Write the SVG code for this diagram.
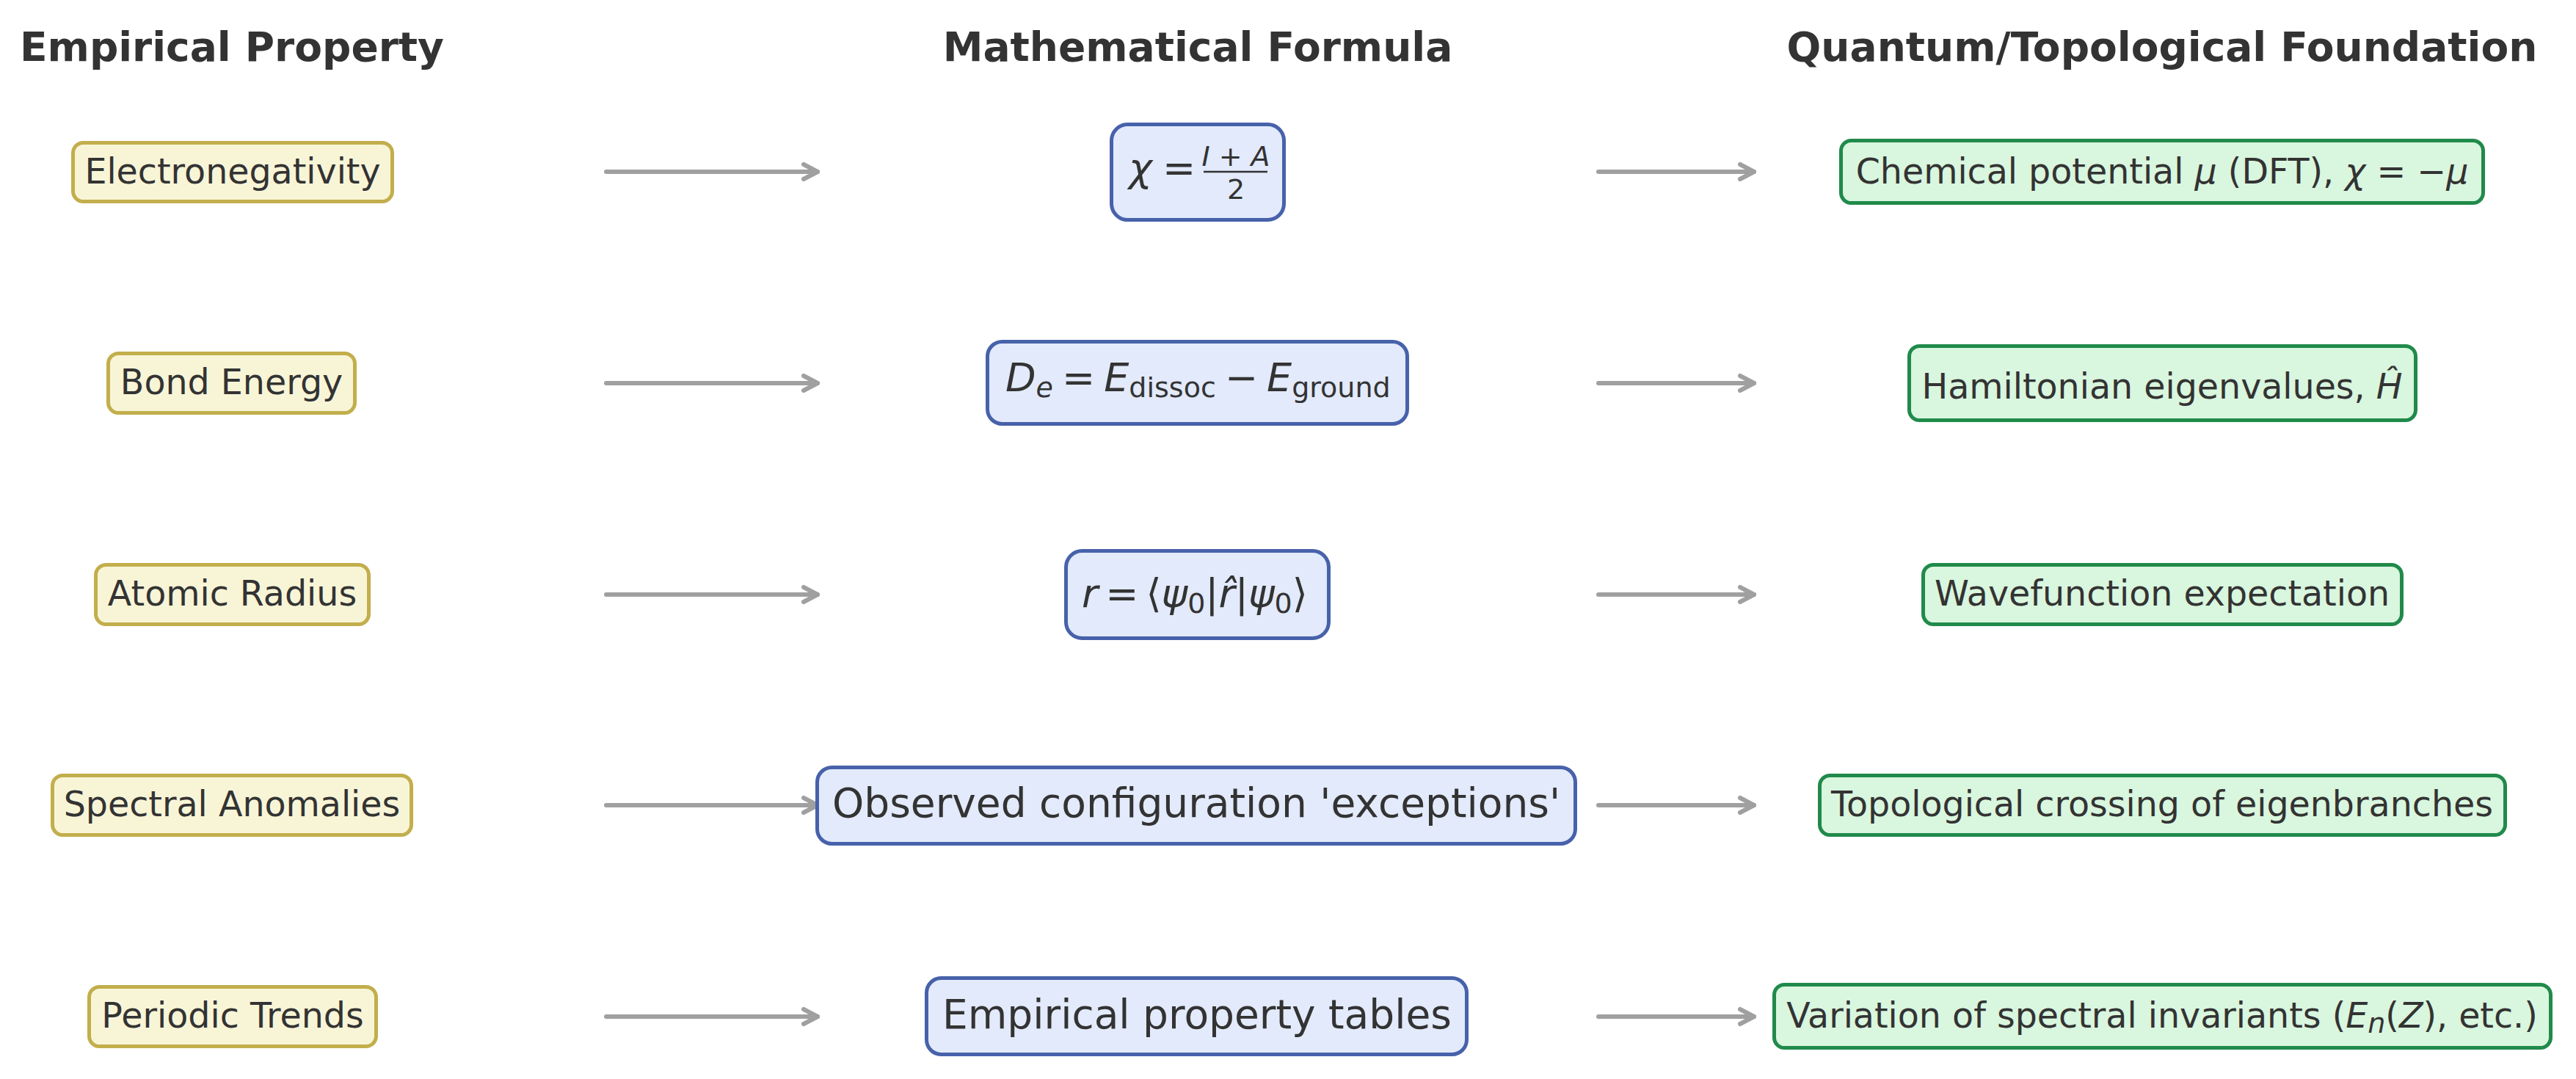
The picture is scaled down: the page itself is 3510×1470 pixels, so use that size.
<svg xmlns="http://www.w3.org/2000/svg" width="3510" height="1470" viewBox="0 0 3510 1470">
<style>
text{font-family:"DejaVu Sans","Liberation Sans",sans-serif;fill:#333333}
.hdr{font-size:55px;font-weight:bold;text-anchor:middle}
.lbl{font-size:47.5px;text-anchor:middle}
.mid{font-size:55px;text-anchor:middle}
.math{font-size:54px}
.sub{font-size:38px}
.it{font-style:italic}
.emp rect{fill:#f8f5d7;stroke:#c2ae4c;stroke-width:5}
.frm rect{fill:#e2eafb;stroke:#4762aa;stroke-width:5}
.qtf rect{fill:#d9f6de;stroke:#208a4a;stroke-width:5}
.conn line{stroke:#a0a0a0;stroke-width:6;stroke-linecap:round}
</style>
<defs>
<marker id="ah" viewBox="0 0 24 24" refX="22" refY="12" markerWidth="24" markerHeight="24" orient="auto" markerUnits="userSpaceOnUse" overflow="visible">
<path d="M3,2 L22,12 L3,22" fill="none" stroke="#a0a0a0" stroke-width="6" stroke-linejoin="round" stroke-linecap="round"/>
</marker>
</defs>
<rect width="3510" height="1470" fill="#ffffff"/>

<g id="headers">
<text class="hdr" x="316" y="83">Empirical Property</text>
<text class="hdr" x="1632" y="83">Mathematical Formula</text>
<text class="hdr" x="2946" y="83">Quantum/Topological Foundation</text>
</g>

<g id="connectors" class="conn">
<line x1="826" y1="234" x2="1114" y2="234" marker-end="url(#ah)"/>
<line x1="826" y1="522" x2="1114" y2="522" marker-end="url(#ah)"/>
<line x1="826" y1="810" x2="1114" y2="810" marker-end="url(#ah)"/>
<line x1="826" y1="1097" x2="1114" y2="1097" marker-end="url(#ah)"/>
<line x1="826" y1="1385" x2="1114" y2="1385" marker-end="url(#ah)"/>
<line x1="2178" y1="234" x2="2390" y2="234" marker-end="url(#ah)"/>
<line x1="2178" y1="522" x2="2390" y2="522" marker-end="url(#ah)"/>
<line x1="2178" y1="810" x2="2390" y2="810" marker-end="url(#ah)"/>
<line x1="2178" y1="1097" x2="2390" y2="1097" marker-end="url(#ah)"/>
<line x1="2178" y1="1385" x2="2390" y2="1385" marker-end="url(#ah)"/>
</g>

<g id="emp-electronegativity" class="emp">
<rect x="99.5" y="194.5" width="435" height="80" rx="14"/>
<text class="lbl" x="317" y="250">Electronegativity</text>
</g>
<g id="emp-bond-energy" class="emp">
<rect x="147.5" y="481.5" width="336" height="81" rx="14"/>
<text class="lbl" x="315.5" y="537">Bond Energy</text>
</g>
<g id="emp-atomic-radius" class="emp">
<rect x="130.5" y="769.5" width="372" height="81" rx="14"/>
<text class="lbl" x="316.5" y="825">Atomic Radius</text>
</g>
<g id="emp-spectral-anomalies" class="emp">
<rect x="71.5" y="1056.5" width="489" height="81" rx="14"/>
<text class="lbl" x="316" y="1112">Spectral Anomalies</text>
</g>
<g id="emp-periodic-trends" class="emp">
<rect x="121.5" y="1344.5" width="391" height="81" rx="14"/>
<text class="lbl" x="317" y="1400">Periodic Trends</text>
</g>

<g id="frm-electronegativity" class="frm">
<rect x="1514.5" y="169.5" width="235" height="130" rx="22"/>
<text class="math" x="1538" y="247"><tspan class="it">χ</tspan></text>
<text class="math" x="1584" y="247">=</text>
<line x1="1640" y1="234" x2="1727" y2="234" stroke="#333333" stroke-width="2.5"/>
<text class="sub" x="1684" y="226" text-anchor="middle"><tspan class="it">I</tspan> + <tspan class="it">A</tspan></text>
<text class="sub" x="1684" y="271" text-anchor="middle">2</text>
</g>
<g id="frm-bond-energy" class="frm">
<rect x="1345.5" y="465.5" width="572" height="112" rx="20"/>
<text class="math" x="1370" y="533"><tspan class="it">D</tspan><tspan class="sub it" dy="8">e</tspan><tspan dx="12" dy="-8">=</tspan><tspan class="it" dx="12">E</tspan><tspan class="sub" dy="8">dissoc</tspan><tspan dx="12" dy="-8">−</tspan><tspan class="it" dx="12">E</tspan><tspan class="sub" dy="8">ground</tspan></text>
</g>
<g id="frm-atomic-radius" class="frm">
<rect x="1452.5" y="750.5" width="358" height="119" rx="22"/>
<text class="math" x="1474" y="827"><tspan class="it">r</tspan><tspan dx="10">=</tspan><tspan dx="10">⟨</tspan><tspan class="it">ψ</tspan><tspan class="sub" dy="8">0</tspan><tspan dy="-8">|</tspan><tspan class="it">r̂</tspan><tspan>|</tspan><tspan class="it">ψ</tspan><tspan class="sub" dy="8">0</tspan><tspan dy="-8">⟩</tspan></text>
</g>
<g id="frm-spectral-anomalies" class="frm">
<rect x="1113.5" y="1045.5" width="1033" height="104" rx="20"/>
<text class="mid" x="1630" y="1113">Observed configuration 'exceptions'</text>
</g>
<g id="frm-periodic-trends" class="frm">
<rect x="1262.5" y="1332.5" width="736" height="104" rx="20"/>
<text class="mid" x="1631" y="1401">Empirical property tables</text>
</g>

<g id="qtf-electronegativity" class="qtf">
<rect x="2508.5" y="191.5" width="875" height="85" rx="14"/>
<text class="lbl" x="2946" y="250">Chemical potential <tspan class="it">μ</tspan> (DFT), <tspan class="it">χ</tspan> = −<tspan class="it">μ</tspan></text>
</g>
<g id="qtf-bond-energy" class="qtf">
<rect x="2601.5" y="471.5" width="690" height="101" rx="14"/>
<text class="lbl" x="2946" y="543">Hamiltonian eigenvalues, <tspan class="it">Ĥ</tspan></text>
</g>
<g id="qtf-atomic-radius" class="qtf">
<rect x="2620.5" y="769.5" width="652" height="81" rx="14"/>
<text class="lbl" x="2946" y="825">Wavefunction expectation</text>
</g>
<g id="qtf-spectral-anomalies" class="qtf">
<rect x="2479.5" y="1056.5" width="934" height="81" rx="14"/>
<text class="lbl" x="2946" y="1112">Topological crossing of eigenbranches</text>
</g>
<g id="qtf-periodic-trends" class="qtf">
<rect x="2417.5" y="1341.5" width="1058" height="86" rx="14"/>
<text class="lbl" x="2946" y="1400">Variation of spectral invariants (<tspan class="it">E</tspan><tspan class="sub it" dy="7">n</tspan><tspan dy="-7">(</tspan><tspan class="it">Z</tspan>), etc.)</text>
</g>
</svg>
